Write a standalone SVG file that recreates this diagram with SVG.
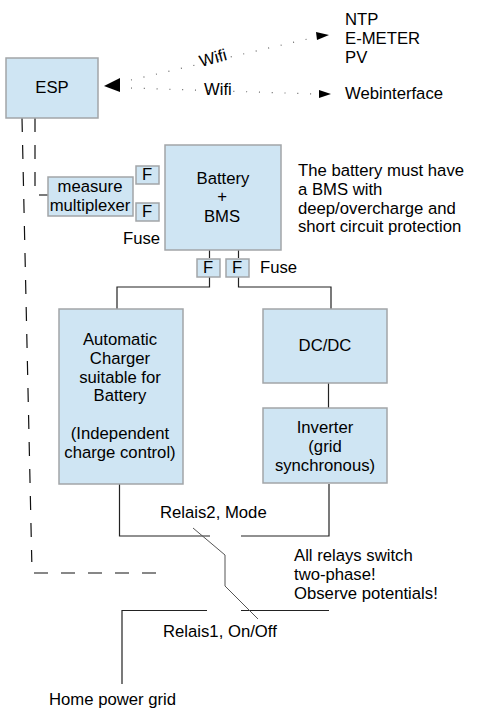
<svg xmlns="http://www.w3.org/2000/svg" width="480" height="716" viewBox="0 0 480 716">
<defs>
<style>
.b{fill:#cfe5f3;stroke:#a2a5a8;stroke-width:1.5}
text{font-family:"Liberation Sans",Arial,sans-serif;font-size:16.7px;fill:#000}
.m{text-anchor:middle}
.l{fill:none;stroke:#222;stroke-width:1.2}
.t{fill:none;stroke:#555;stroke-width:1}
.d{fill:none;stroke:#111;stroke-width:1.2;stroke-dasharray:14 13}
.w{fill:none;stroke:#666;stroke-width:1.2;stroke-dasharray:1 11.8}
</style>
</defs>
<rect width="480" height="716" fill="#fff"/>
<g id="connectors">
<path class="d" d="M22 118L31.800 562"/>
<path class="d" d="M35 118V186"/>
<path class="d" d="M34 573H156"/>
<path class="l" d="M39 195H48"/>
<path class="w" d="M131 80L312 38"/>
<path class="w" d="M131 88L316 94"/>
<path d="M104 86L120 78V92Z" fill="#000"/>
<path d="M316 32L329 35L317 40Z" fill="#000"/>
<path d="M319 90L331 94L319 98Z" fill="#000"/>
<path class="l" d="M209.500 250V258M209.500 277V287H117V309"/>
<path class="l" d="M238.500 250V258M238.500 277V287H331V309"/>
<path class="l" d="M328.500 383V408"/>
<path class="l" d="M119.500 484V536H210M241 536H329V484"/>
<path class="l" d="M122 684V610.500H207M241 610.500H329"/>
<path class="t" d="M193 528L225 555V586L258 619"/>
</g>
<g id="esp"><rect class="b" x="6" y="58" width="92" height="60"/><text class="m" x="52" y="93">ESP</text></g>
<g id="multiplexer"><rect class="b" x="48" y="177" width="85" height="39"/><text class="m" x="90" y="192">measure</text><text class="m" x="90" y="211">multiplexer</text></g>
<g id="fuse-1"><rect class="b" x="136" y="166" width="23" height="18"/><text class="m" x="147" y="180">F</text></g>
<g id="fuse-2"><rect class="b" x="136" y="203" width="23" height="18"/><text class="m" x="147" y="217">F</text></g>
<g id="battery"><rect class="b" x="165" y="145" width="116" height="105"/><text class="m" x="223" y="184">Battery</text><text class="m" x="222" y="202">+</text><text class="m" x="222" y="222">BMS</text></g>
<g id="fuse-3"><rect class="b" x="197" y="259" width="23" height="18"/><text class="m" x="208" y="273">F</text></g>
<g id="fuse-4"><rect class="b" x="226" y="259" width="23" height="18"/><text class="m" x="237" y="273">F</text></g>
<g id="charger"><rect class="b" x="59" y="309" width="124" height="175"/>
<text class="m" x="120" y="345">Automatic</text><text class="m" x="120" y="364">Charger</text><text class="m" x="120" y="383">suitable for</text><text class="m" x="120" y="401">Battery</text><text class="m" x="120" y="439">(Independent</text><text class="m" x="120" y="458">charge control)</text></g>
<g id="dcdc"><rect class="b" x="263" y="309" width="124" height="74"/><text class="m" x="325" y="351">DC/DC</text></g>
<g id="inverter"><rect class="b" x="263" y="408" width="124" height="75"/><text class="m" x="325" y="433">Inverter</text><text class="m" x="325" y="452">(grid</text><text class="m" x="325" y="471">synchronous)</text></g>
<g id="labels">
<text x="345" y="25">NTP</text><text x="345" y="44">E-METER</text><text x="345" y="63">PV</text>
<text x="345" y="99">Webinterface</text>
<text x="201" y="67" transform="rotate(-15 201 67)">Wifi</text>
<text x="204" y="95">Wifi</text>
<text x="298" y="176">The battery must have</text><text x="298" y="195">a BMS with</text><text x="298" y="214">deep/overcharge and</text><text x="298" y="232">short circuit protection</text>
<text x="123" y="244">Fuse</text><text x="260" y="273">Fuse</text>
<text x="160" y="518">Relais2, Mode</text>
<text x="163" y="637">Relais1, On/Off</text>
<text x="49" y="705">Home power grid</text>
<text x="294" y="561">All relays switch</text><text x="294" y="580">two-phase!</text><text x="294" y="599">Observe potentials!</text>
</g>
</svg>
